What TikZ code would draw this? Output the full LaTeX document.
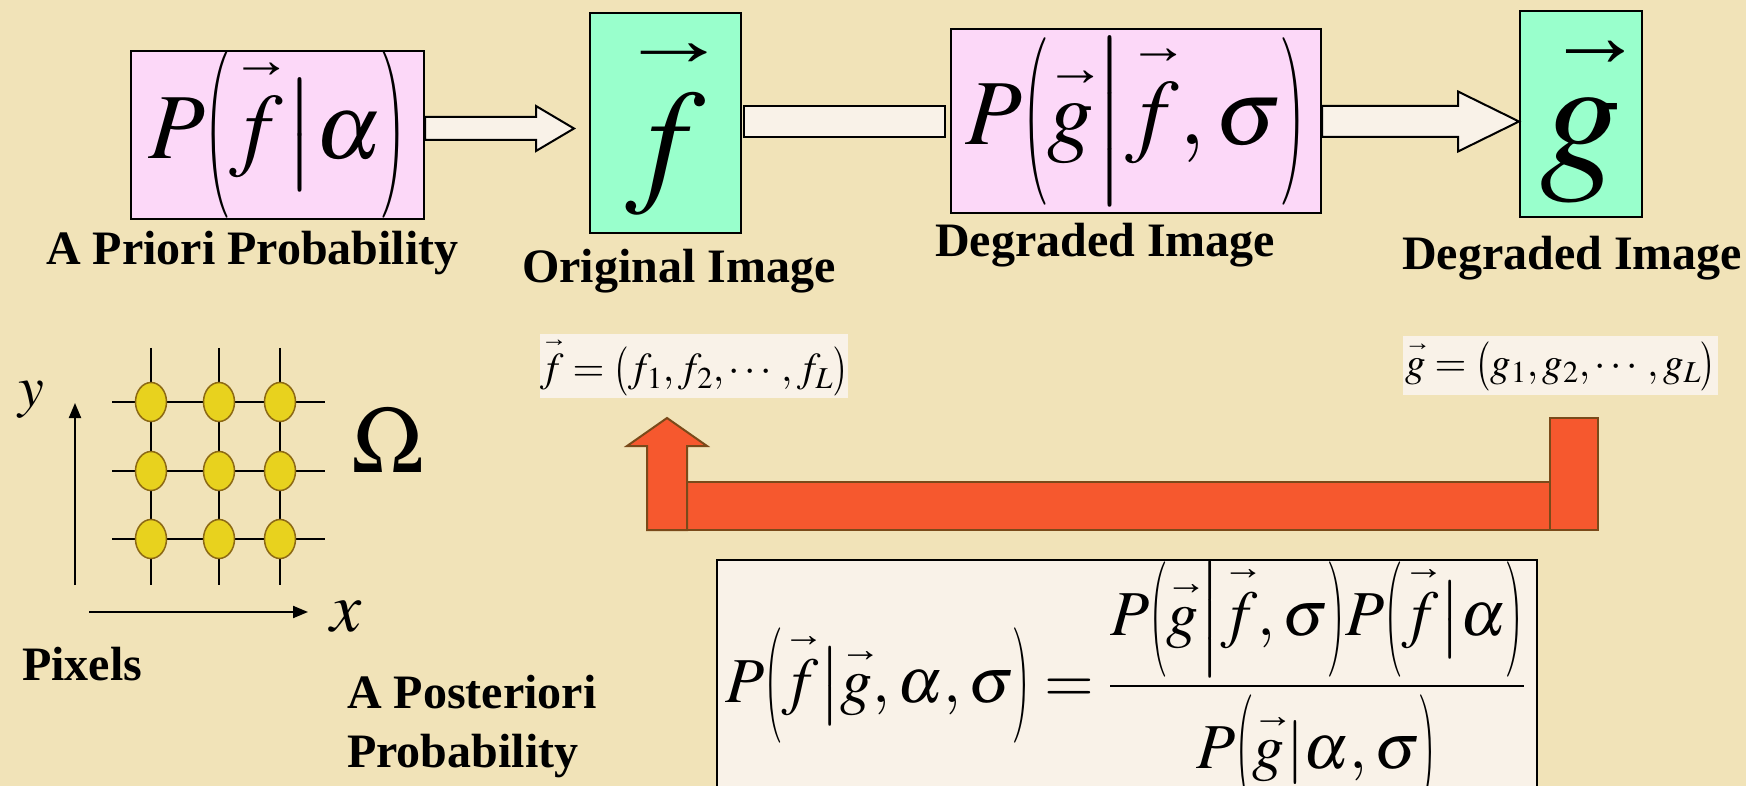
\documentclass[tikz,border=0pt]{standalone}
\usepackage{amsmath}
\usepackage{mathptmx}
\usepackage[no-math]{fontspec}
\setmainfont{Liberation Serif}
\usepackage{graphicx}
\usetikzlibrary{arrows.meta,calc,shapes.geometric}
\definecolor{paper}{RGB}{241,227,184}
\definecolor{probpink}{RGB}{252,216,248}
\definecolor{imggreen}{RGB}{153,255,204}
\definecolor{cream}{RGB}{249,242,232}
\definecolor{feedred}{RGB}{246,88,46}
\definecolor{feedbrown}{RGB}{122,74,26}
\definecolor{pixyellow}{RGB}{232,210,30}
\definecolor{pixbrown}{RGB}{140,105,20}
% vector arrow and fixed-height (narrow) delimiters
\newcommand{\vvat}[3]{\mathord{\overset{\makebox[0pt]{\hspace{#2}\scalebox{#1}[0.55]{\bfseries →}}}{#3}}}
\newcommand{\vv}[2][0.65]{\vvat{#1}{0.12em}{#2}}
\newcommand{\lpar}[2][0.45]{\mathopen{\scalebox{#1}[1]{$\nulldelimiterspace=0pt\left(\vcenter to #2{}\right.$}}}
\newcommand{\rpar}[2][0.45]{\mathclose{\scalebox{#1}[1]{$\nulldelimiterspace=0pt\left.\vcenter to #2{}\right)$}}}
\newcommand{\vbar}[1]{\mathord{\nulldelimiterspace=0pt\left.\vcenter to #1{}\right|}}

\begin{document}
\begin{tikzpicture}[x=1pt, y=-1pt,
    lab/.style={font=\fontsize{48}{59}\selectfont\bfseries, inner sep=0pt},
    probbox/.style={draw, line width=2pt, fill=probpink, inner sep=0pt},
    imgbox/.style={draw, line width=2pt, fill=imggreen, inner sep=0pt},
    flowarrow/.style={draw, line width=2pt, fill=cream, line join=miter},
    veclab/.style={fill=cream, inner sep=0pt, font=\fontsize{41}{48}\selectfont},
    feedback/.style={draw=feedbrown, line width=2pt, fill=feedred},
    gridline/.style={line width=2pt},
    pixel/.style={ellipse, draw=pixbrown, line width=1.5pt, fill=pixyellow,
      minimum width=31pt, minimum height=39pt, inner sep=0pt},
    axis/.style={line width=2pt, -{Triangle[length=15pt,width=12pt]}}]
  \useasboundingbox (0,0) rectangle (1746,786);
  \clip (0,0) rectangle (1746,786);
  \fill[paper] (0,0) rectangle (1746,786);

  % top row: prior -> original -> degradation -> degraded
  \node[probbox, minimum width=293pt, minimum height=156pt] (prior) at (277.5,135)
    {\fontsize{93}{100}\selectfont$P\lpar{136pt}\vv{f}\vbar{103pt}\alpha\rpar{136pt}$};
  \node[imgbox, minimum width=151pt, minimum height=220pt] (orig) at (665.5,123)
    {\raisebox{14pt}{\fontsize{139}{150}\selectfont$\vv[0.8]{f}$}};
  \node[probbox, minimum width=370pt, minimum height=184pt] (model) at (1136,121.5)
    {\fontsize{93}{100}\selectfont$P\lpar{150pt}\vv{g}\vbar{147pt}\vv{f},\sigma\rpar{150pt}$};
  \node[imgbox, minimum width=122pt, minimum height=206pt] (degr) at (1581,114)
    {\raisebox{15pt}{\fontsize{163}{170}\selectfont$\vvat{0.6}{0.18em}{g}$}};

  % block arrows
  \coordinate (a1s) at ($(prior.east)+(0,-6.5)$);
  \coordinate (a1t) at ($(orig.west)+(-15,5.5)$);
  \draw[flowarrow] ($(a1s)+(0,-11.5)$) -- ($(a1t)+(-38,-11.5)$) -- ($(a1t)+(-38,-22.5)$)
    -- (a1t) -- ($(a1t)+(-38,22.5)$) -- ($(a1t)+(-38,11.5)$) -- ($(a1s)+(0,11.5)$) -- cycle;
  \draw[flowarrow] ($(orig.east)+(2,-17)$) rectangle ($(model.west)+(-5,15.5)$);
  \coordinate (a3s) at (model.east);
  \coordinate (a3t) at ($(degr.west)+(0,7.5)$);
  \draw[flowarrow] ($(a3s)+(0,-15.5)$) -- ($(a3t)+(-61,-15.5)$) -- ($(a3t)+(-61,-30)$)
    -- (a3t) -- ($(a3t)+(-61,30)$) -- ($(a3t)+(-61,15.5)$) -- ($(a3s)+(0,15.5)$) -- cycle;

  % captions
  \node[lab, anchor=base west] (priorlab) at (46,265) {A Priori Probability};
  \node[lab, anchor=base west] (origlab) at (522,283) {Original Image};
  \node[lab, anchor=base west] (modellab) at (935,257) {Degraded Image};
  \node[lab, anchor=base west] (degrlab) at (1402,270) {Degraded Image};

  % vectors
  \node[veclab, minimum width=302pt, minimum height=64pt] (fvec) at (694,366)
    {$\vv{f}=\lpar[0.8]{46pt}f_1,f_2,\cdots,f_L\rpar[0.8]{46pt}$};
  \node[veclab, minimum width=315pt, minimum height=59pt] (gvec) at (1560.5,365.5)
    {$\vv{g}=\lpar[0.8]{46pt}g_1,g_2,\cdots,g_L\rpar[0.8]{46pt}$};

  % feedback arrow
  \draw[feedback] (687,482) rectangle (1550,530);
  \draw[feedback] (1550,418) rectangle (1598,530);
  \draw[feedback] (647,530) -- (647,446) -- (627,446) -- (667,418) -- (707,446)
    -- (687,446) -- (687,530) -- cycle;

  % posterior
  \node[draw, line width=1.5pt, fill=cream, minimum width=820pt, minimum height=260pt] (postbox) at (1127,690) {};
  \node[anchor=base, font=\fontsize{64}{70}\selectfont] (posterior) at (1125,702)
    {$\displaystyle P\lpar{103pt}\vv{f}\vbar{70pt}\vv{g},\alpha,\sigma\rpar{103pt}=
      \frac{P\lpar{107pt}\vv{g}\vbar{87pt}\vv{f},\sigma\rpar{107pt}P\lpar{107pt}\vv{f}\vbar{70pt}\alpha\rpar{107pt}}
           {\raisebox{-15pt}[0pt][0pt]{$\displaystyle P\lpar{84pt}\vv{g}\vbar{55pt}\alpha,\sigma\rpar{84pt}$}}$};
  \node[lab, anchor=base west, align=left] (postlab) at (347,767) {A Posteriori\\Probability};

  % pixel lattice
  \foreach \gx in {151,219,280}
    \draw[gridline] (\gx,348) -- (\gx,585);
  \foreach \gy in {402,471,539}
    \draw[gridline] (112,\gy) -- (325,\gy);
  \foreach \gx in {151,219,280}
    \foreach \gy in {402,471,539}
      \node[pixel] (pix-\gx-\gy) at (\gx,\gy) {};
  \draw[axis] (75,585) -- (75,403);
  \draw[axis] (89,612) -- (308,612);
  \node[font=\fontsize{58}{60}\selectfont] (ylab) at (31,400) {$y$};
  \node[font=\fontsize{70}{70}\selectfont] (xlab) at (346,617) {$x$};
  \node[font=\fontsize{95}{95}\selectfont] (omega) at (388,440) {$\Omega$};
  \node[lab, anchor=base west] (pixlab) at (22,680) {Pixels};
\end{tikzpicture}
\end{document}
